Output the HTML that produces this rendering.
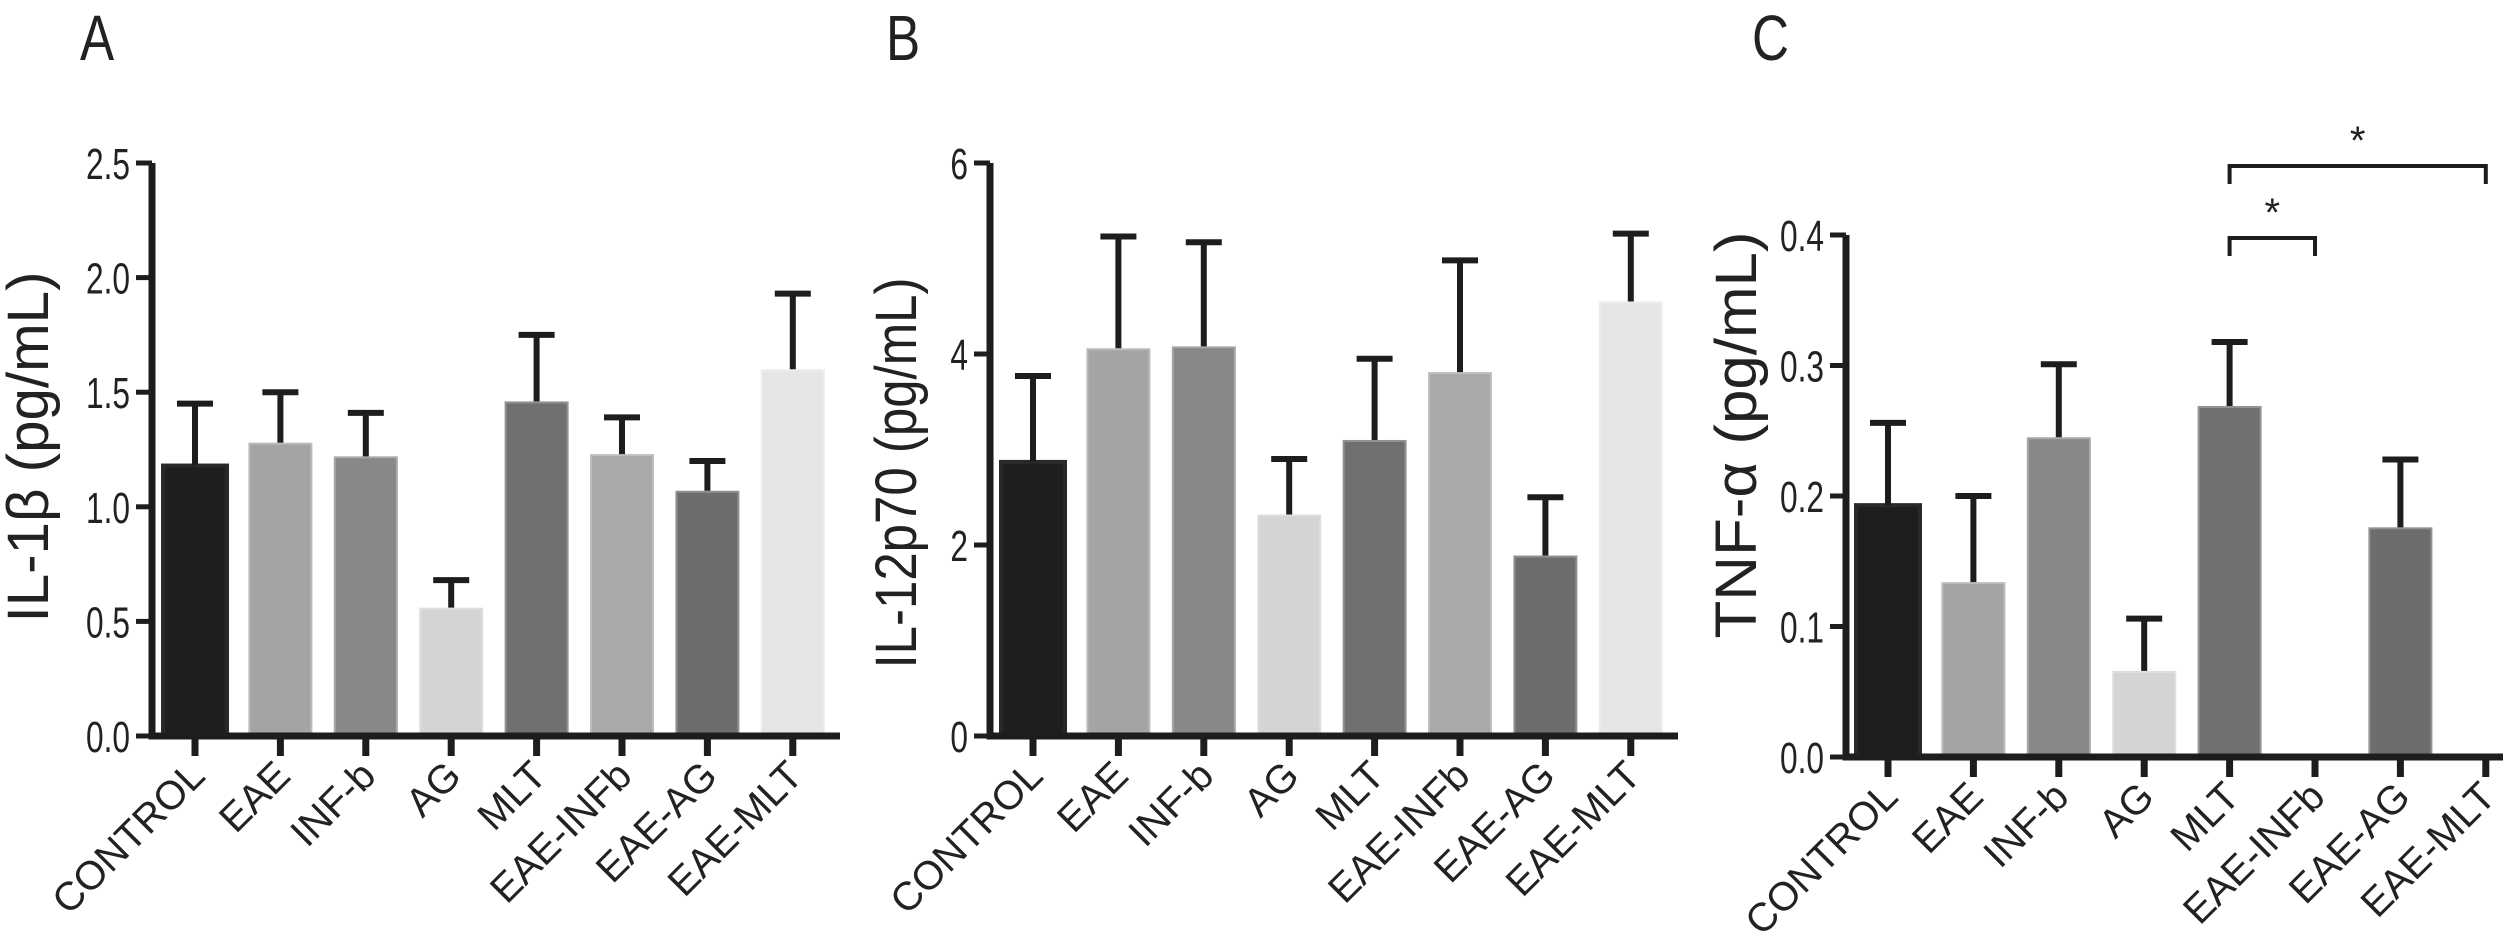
<!DOCTYPE html>
<html><head><meta charset="utf-8"><style>
body{margin:0;background:#fff}
svg{display:block}
text{font-family:"Liberation Sans",sans-serif;fill:#222}
</style></head><body>
<svg id="chart" width="2503" height="951" viewBox="0 0 2503 951" xmlns="http://www.w3.org/2000/svg"></svg>
<script>
const categories = ["CONTROL","EAE","INF-b","AG","MLT","EAE-INFb","EAE-AG","EAE-MLT"];
const colors = ["#1f1d1e","#a3a4a6","#87888a","#d3d4d5","#6f7072","#a8a9ab","#6c6d6f","#e5e6e7"];
const il1bMeans = [1.18,1.28,1.22,0.56,1.46,1.23,1.07,1.60];
const il1bTops  = [1.45,1.50,1.41,0.68,1.75,1.39,1.20,1.93];
const il1bTicks = ["0.0","0.5","1.0","1.5","2.0","2.5"];
const il12Means = [2.87,4.06,4.08,2.32,3.10,3.81,1.89,4.55];
const il12Tops  = [3.77,5.23,5.17,2.90,3.95,4.98,2.50,5.26];
const il12Ticks = ["0","2","4","6"];
const tnfMeans = [0.193,0.134,0.245,0.066,0.269,0,0.176,0];
const tnfTops  = [0.256,0.200,0.301,0.106,0.318,0,0.228,0];
const tnfTicks = ["0.0","0.1","0.2","0.3","0.4"];

const NS="http://www.w3.org/2000/svg";
const svg=document.getElementById('chart');
function mk(tag,attrs,parent){const e=document.createElementNS(NS,tag);for(const k in attrs)e.setAttribute(k,attrs[k]);(parent||svg).appendChild(e);return e;}

function panel(cfg){
  const g=mk('g',{});
  
  
  const ticks=cfg.ticks.map(Number), ymax=ticks[ticks.length-1];
  const y=v=>cfg.y0-(v/ymax)*(cfg.y0-cfg.yTop);
  const x=i=>cfg.x0+i*85.4;
  cfg.means.forEach((m,i)=>{
    const cx=x(i), w=64;
    if(m>0){
      const r=mk('rect',{x:cx-w/2,y:y(m),width:w,height:cfg.y0-y(m),fill:colors[i],stroke:i==0?'#2a2829':'rgba(255,255,255,0.25)','stroke-width':4},g);
      
      
    }
    if(cfg.tops[i]>m){
      const e=mk('path',{d:`M${cx} ${y(m)} V${y(cfg.tops[i])} M${cx-18} ${y(cfg.tops[i])} H${cx+18}`,stroke:'#1e1c1d','stroke-width':6,fill:'none'},g);
      
      
    }
    mk('line',{x1:cx,x2:cx,y1:cfg.y0,y2:cfg.y0+20,stroke:'#1e1c1d','stroke-width':7},g);
    const t=mk('text',{x:0,y:0,'font-size':40,'text-anchor':'end',transform:`translate(${cx+12},${cfg.y0+42}) rotate(-45)`},g);
    t.textContent=categories[i];
    
    
  });
  mk('path',{d:`M${cfg.ax} ${cfg.yTop} V${cfg.y0} H${cfg.xEnd}`,stroke:'#1e1c1d','stroke-width':7,fill:'none'},g);
  cfg.ticks.forEach((lab,k)=>{
    const yy=y(ticks[k]);
    mk('line',{x1:cfg.ax-16,x2:cfg.ax,y1:yy,y2:yy,stroke:'#1e1c1d','stroke-width':5},g);
    const t=mk('text',{x:0,y:0,'font-size':44,'text-anchor':'end',transform:`translate(${cfg.ax-22},${yy+16}) scale(0.72,1)`},g);
    t.textContent=lab;
    
    
  });
  const yt=mk('text',{x:0,y:0,'font-size':58,'text-anchor':'middle',textLength:cfg.titleLen,lengthAdjust:'spacingAndGlyphs',transform:`translate(${cfg.titleX},${cfg.titleY}) rotate(-90)`},g);
  yt.textContent=cfg.title;
  
  
  const pl=mk('text',{x:0,y:0,'font-size':64,transform:`translate(${cfg.letterX},60) scale(0.8,1)`},g);
  pl.textContent=cfg.letter;
  
  
  return {g,x,y};
}

panel({name:'panel-a-il1b',ax:152,x0:195,xEnd:840,y0:736,yTop:163,ticks:il1bTicks,means:il1bMeans,tops:il1bTops,title:'IL-1β (pg/mL)',titleX:48,titleY:447,titleLen:351,letter:'A',letterX:80});
panel({name:'panel-b-il12p70',ax:990,x0:1033,xEnd:1678,y0:736,yTop:163,ticks:il12Ticks,means:il12Means,tops:il12Tops,title:'IL-12p70 (pg/mL)',titleX:916,titleY:473,titleLen:391,letter:'B',letterX:886});
const pc=panel({name:'panel-c-tnfa',ax:1846,x0:1888,xEnd:2503,y0:757,yTop:235,ticks:tnfTicks,means:tnfMeans,tops:tnfTops,title:'TNF-α (pg/mL)',titleX:1756,titleY:435,titleLen:407,letter:'C',letterX:1752});
function bracket(i,j,yy,name){
  const b=mk('path',{d:`M${pc.x(i)} ${yy+18} V${yy} H${pc.x(j)} V${yy+18}`,stroke:'#1e1c1d','stroke-width':4,fill:'none'},pc.g);
  
  
  const s=mk('text',{x:(pc.x(i)+pc.x(j))/2,y:yy-12,'font-size':40,'text-anchor':'middle'},pc.g);
  s.textContent='*';
  
  
}
bracket(4,5,238,'sig-bracket-mlt-eae-infb');
bracket(4,7,166,'sig-bracket-mlt-eae-mlt');
</script>
</body></html>
